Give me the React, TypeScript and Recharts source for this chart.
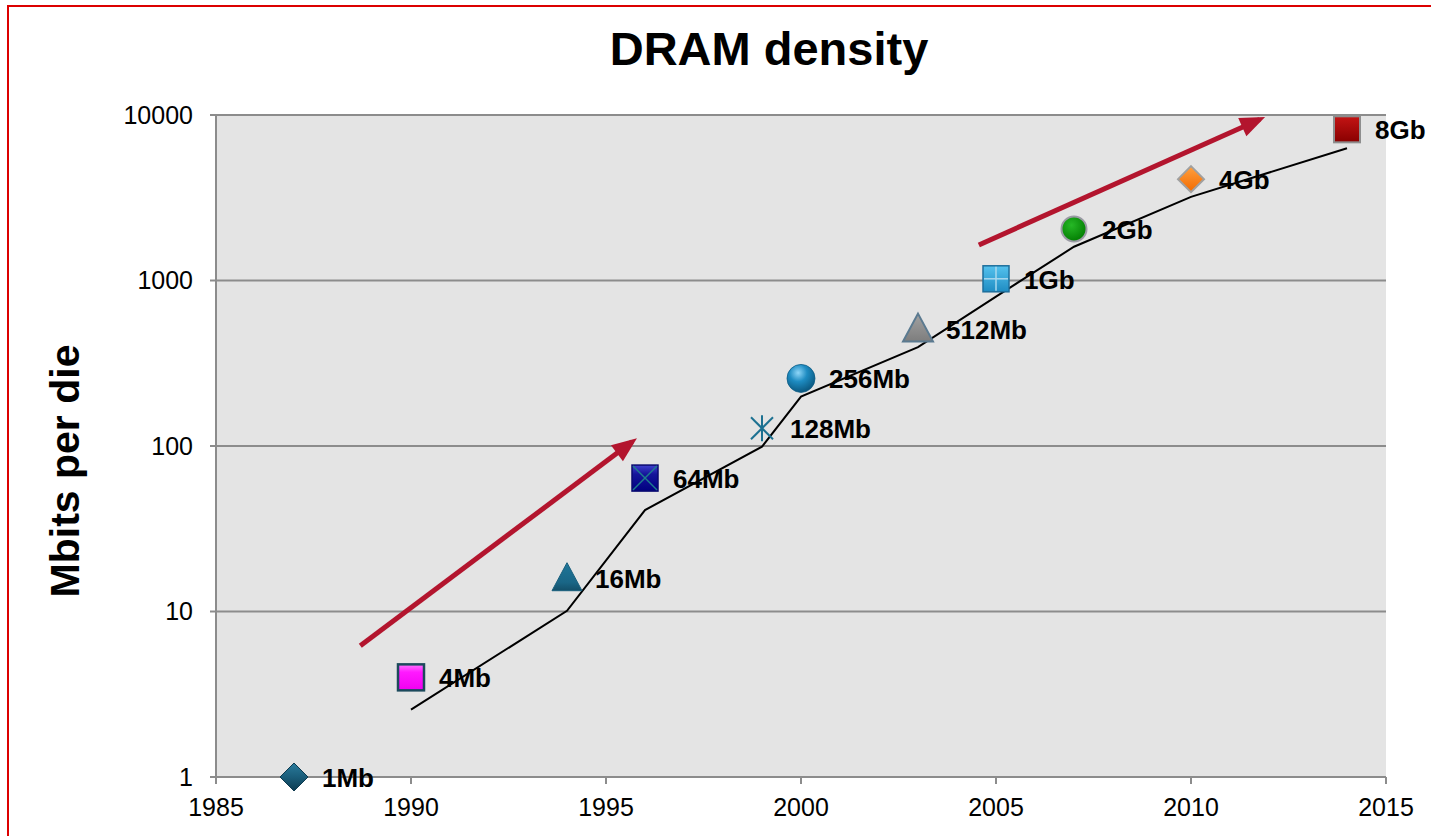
import React from 'react';
import { ComposedChart, XAxis, YAxis, CartesianGrid, Line, Scatter } from 'recharts';

const FONT = '"Liberation Sans", Arial, Helvetica, sans-serif';

// DRAM generations
const years = [1987, 1990, 1994, 1996, 1999, 2000, 2003, 2005, 2007, 2010, 2014];
const densities = [1, 4, 16, 64, 128, 256, 512, 1024, 2048, 4096, 8192];
const densityLabels = ['1Mb', '4Mb', '16Mb', '64Mb', '128Mb', '256Mb', '512Mb', '1Gb', '2Gb', '4Gb', '8Gb'];
const markerKinds = [
  'diamondTeal', 'squareMagenta', 'triangleTeal', 'squareX', 'asterisk', 'sphere',
  'triangleGray', 'squarePlus', 'circleGreen', 'diamondOrange', 'squareRed',
];

// black trend line
const trendYears = [1990, 1994, 1996, 1999, 2000, 2003, 2005, 2007, 2010, 2014];
const trendValues = [2.55, 10.1, 41, 99, 199, 396, 800, 1600, 3200, 6300];

// red arrows
const arrow1Years = [1988.7, 1995.67];
const arrow1Values = [6.2, 106];
const arrow2Years = [2004.56, 2011.76];
const arrow2Values = [1640, 9400];

const xTicks = [1985, 1990, 1995, 2000, 2005, 2010, 2015];
const yTicks = [1, 10, 100, 1000, 10000];

const markerData = years.map((x, i) => ({ x, y: densities[i], label: densityLabels[i], kind: markerKinds[i] }));
const trendData = trendYears.map((x, i) => ({ x, y: trendValues[i] }));
const arrow1Data = arrow1Years.map((x, i) => ({ x, y: arrow1Values[i] }));
const arrow2Data = arrow2Years.map((x, i) => ({ x, y: arrow2Values[i] }));

function renderMarker(kind: string, cx: number, cy: number) {
  const h = 14;
  switch (kind) {
    case 'diamondTeal':
      return (
        <polygon
          points={`${cx},${cy - h} ${cx + h},${cy} ${cx},${cy + h} ${cx - h},${cy}`}
          fill="url(#gTeal)" stroke="#0d3a4f" strokeWidth={1}
        />
      );
    case 'squareMagenta':
      return (
        <rect x={cx - 13} y={cy - 13} width={26} height={26} fill="url(#gMagenta)" stroke="#1c4a5c" strokeWidth={2.5} />
      );
    case 'triangleTeal':
      return (
        <polygon
          points={`${cx},${cy - 15} ${cx + 15},${cy + 13} ${cx - 15},${cy + 13}`}
          fill="url(#gTriTeal)" stroke="#185f7d" strokeWidth={1}
        />
      );
    case 'squareX':
      return (
        <g>
          <rect x={cx - 13} y={cy - 13} width={26} height={26} fill="url(#gNavy)" stroke="#0a0a70" strokeWidth={1.5} />
          <line x1={cx - 12} y1={cy - 12} x2={cx + 12} y2={cy + 12} stroke="#1d7d8d" strokeWidth={1.5} />
          <line x1={cx + 12} y1={cy - 12} x2={cx - 12} y2={cy + 12} stroke="#1d7d8d" strokeWidth={1.5} />
        </g>
      );
    case 'asterisk':
      return (
        <g stroke="#1c7191" strokeWidth={2}>
          <line x1={cx} y1={cy - 13} x2={cx} y2={cy + 13} />
          <line x1={cx - 11} y1={cy - 11} x2={cx + 11} y2={cy + 11} />
          <line x1={cx + 11} y1={cy - 11} x2={cx - 11} y2={cy + 11} />
        </g>
      );
    case 'sphere':
      return <circle cx={cx} cy={cy} r={14} fill="url(#gSphere)" stroke="#0e5d86" strokeWidth={0.8} />;
    case 'triangleGray':
      return (
        <polygon
          points={`${cx},${cy - 15} ${cx + 15},${cy + 13} ${cx - 15},${cy + 13}`}
          fill="url(#gGray)" stroke="#5b7a90" strokeWidth={2}
        />
      );
    case 'squarePlus':
      return (
        <g>
          <rect x={cx - 13} y={cy - 13} width={26} height={26} fill="url(#gBlue)" stroke="#1e6f9c" strokeWidth={1.5} />
          <line x1={cx} y1={cy - 12} x2={cx} y2={cy + 12} stroke="#a9d8ee" strokeWidth={1.5} />
          <line x1={cx - 12} y1={cy} x2={cx + 12} y2={cy} stroke="#a9d8ee" strokeWidth={1.5} />
        </g>
      );
    case 'circleGreen':
      return <circle cx={cx} cy={cy} r={12.5} fill="url(#gGreen)" stroke="#9a9aa4" strokeWidth={2} />;
    case 'diamondOrange':
      return (
        <polygon
          points={`${cx},${cy - 13} ${cx + 13},${cy} ${cx},${cy + 13} ${cx - 13},${cy}`}
          fill="url(#gOrange)" stroke="#a0a0a0" strokeWidth={2}
        />
      );
    case 'squareRed':
    default:
      return (
        <rect x={cx - 13} y={cy - 13} width={26} height={26} fill="url(#gRed)" stroke="#8e8e8e" strokeWidth={2} />
      );
  }
}

const MarkerShape = (props: any) => {
  const { cx, cy, payload } = props;
  if (cx == null || cy == null) return <g />;
  return (
    <g>
      {renderMarker(payload.kind, cx, cy)}
      <text
        x={cx + 28}
        y={cy + 10}
        fontSize={26}
        fontWeight="bold"
        fill="#000"
        fontFamily={FONT}
      >
        {payload.label}
      </text>
    </g>
  );
};

const ArrowHead = (props: any) => {
  const { cx, cy, index, points } = props;
  if (index !== 1 || !points || points.length < 2) return <g key={`ah-${index}`} />;
  const p0 = points[0];
  const dx = cx - p0.x;
  const dy = cy - p0.y;
  const len = Math.hypot(dx, dy) || 1;
  const ux = dx / len;
  const uy = dy / len;
  const tipX = cx + ux * 6;
  const tipY = cy + uy * 6;
  const L = 25;
  const W = 10;
  const bx = tipX - ux * L;
  const by = tipY - uy * L;
  const pts = `${tipX},${tipY} ${bx - uy * W},${by + ux * W} ${bx + uy * W},${by - ux * W}`;
  return <polygon key={`ah-${index}`} points={pts} fill="#b3152e" />;
};

export default function App() {
  return (
    <div
      style={{
        position: 'fixed',
        left: 0,
        top: 0,
        width: 1431,
        height: 836,
        overflow: 'hidden',
        background: '#fff',
        fontFamily: FONT,
      }}
    >
      <div
        style={{
          position: 'absolute',
          left: 7,
          top: 5,
          width: 1500,
          height: 900,
          border: '2px solid #dc0000',
          boxSizing: 'border-box',
        }}
      />
      <svg width={0} height={0} style={{ position: 'absolute' }}>
        <defs>
          <linearGradient id="gTeal" x1="0" y1="0" x2="0" y2="1">
            <stop offset="0%" stopColor="#2a7b9c" />
            <stop offset="50%" stopColor="#1a5d7a" />
            <stop offset="100%" stopColor="#0c3a50" />
          </linearGradient>
          <linearGradient id="gMagenta" x1="0" y1="0" x2="0" y2="1">
            <stop offset="0%" stopColor="#ff77ff" />
            <stop offset="30%" stopColor="#ff1aff" />
            <stop offset="100%" stopColor="#f000f0" />
          </linearGradient>
          <linearGradient id="gTriTeal" x1="0" y1="0" x2="0" y2="1">
            <stop offset="0%" stopColor="#1f7699" />
            <stop offset="70%" stopColor="#1a6686" />
            <stop offset="100%" stopColor="#134f69" />
          </linearGradient>
          <linearGradient id="gNavy" x1="0" y1="0" x2="0" y2="1">
            <stop offset="0%" stopColor="#4040d0" />
            <stop offset="35%" stopColor="#15159a" />
            <stop offset="100%" stopColor="#000080" />
          </linearGradient>
          <radialGradient id="gSphere" cx="40%" cy="30%" r="70%">
            <stop offset="0%" stopColor="#8fd6f8" />
            <stop offset="45%" stopColor="#1e8cc2" />
            <stop offset="100%" stopColor="#0b5880" />
          </radialGradient>
          <linearGradient id="gGray" x1="0" y1="0" x2="0" y2="1">
            <stop offset="0%" stopColor="#a2a2a2" />
            <stop offset="100%" stopColor="#7d7d7d" />
          </linearGradient>
          <linearGradient id="gBlue" x1="0" y1="0" x2="0" y2="1">
            <stop offset="0%" stopColor="#55c2ee" />
            <stop offset="100%" stopColor="#1f8cc2" />
          </linearGradient>
          <radialGradient id="gGreen" cx="40%" cy="35%" r="70%">
            <stop offset="0%" stopColor="#26b826" />
            <stop offset="100%" stopColor="#007a00" />
          </radialGradient>
          <linearGradient id="gOrange" x1="0" y1="0" x2="0" y2="1">
            <stop offset="0%" stopColor="#ffa040" />
            <stop offset="100%" stopColor="#f26a00" />
          </linearGradient>
          <linearGradient id="gRed" x1="0" y1="0" x2="0" y2="1">
            <stop offset="0%" stopColor="#c41414" />
            <stop offset="100%" stopColor="#880000" />
          </linearGradient>
        </defs>
      </svg>
      <div style={{ position: 'absolute', left: 0, top: 0 }}>
        <ComposedChart
          width={1431}
          height={836}
          margin={{ top: 115, right: 45, bottom: 0, left: 0 }}
          style={{ fontFamily: FONT }}
        >
          <CartesianGrid
            horizontal={true}
            vertical={false}
            fill="#e4e4e4"
            stroke="#8c8c8c"
            strokeWidth={2}
          />
          <XAxis
            type="number"
            dataKey="x"
            domain={[1985, 2015]}
            ticks={xTicks}
            interval={0}
            height={59}
            tickSize={7}
            tickMargin={14}
            stroke="#8c8c8c"
            strokeWidth={2}
            tick={{ fill: '#000', fontSize: 25, fontFamily: FONT }}
          />
          <YAxis
            type="number"
            dataKey="y"
            scale="log"
            domain={[1, 10000]}
            ticks={yTicks}
            interval={0}
            width={216}
            tickSize={6}
            tickMargin={17}
            stroke="#8c8c8c"
            strokeWidth={2}
            tick={{ fill: '#000', fontSize: 25, fontFamily: FONT }}
          />
          <Scatter data={markerData} dataKey="y" shape={MarkerShape} isAnimationActive={false} />
          <Line
            data={trendData}
            dataKey="y"
            type="linear"
            stroke="#000"
            strokeWidth={2}
            dot={false}
            activeDot={false}
            isAnimationActive={false}
          />
          <Line
            data={arrow1Data}
            dataKey="y"
            type="linear"
            stroke="#b3152e"
            strokeWidth={5}
            dot={ArrowHead}
            activeDot={false}
            isAnimationActive={false}
          />
          <Line
            data={arrow2Data}
            dataKey="y"
            type="linear"
            stroke="#b3152e"
            strokeWidth={5}
            dot={ArrowHead}
            activeDot={false}
            isAnimationActive={false}
          />
        </ComposedChart>
      </div>
      <svg
        width={1431}
        height={836}
        style={{ position: 'absolute', left: 0, top: 0, pointerEvents: 'none' }}
      >
        <text x={769} y={65} textAnchor="middle" fontSize={47} fontWeight="bold" fontFamily={FONT} fill="#000">
          DRAM density
        </text>
        <text
          x={79}
          y={471}
          transform="rotate(-90, 79, 471)"
          textAnchor="middle"
          fontSize={41}
          fontWeight="bold"
          fontFamily={FONT}
          fill="#000"
        >
          Mbits per die
        </text>
      </svg>
    </div>
  );
}
